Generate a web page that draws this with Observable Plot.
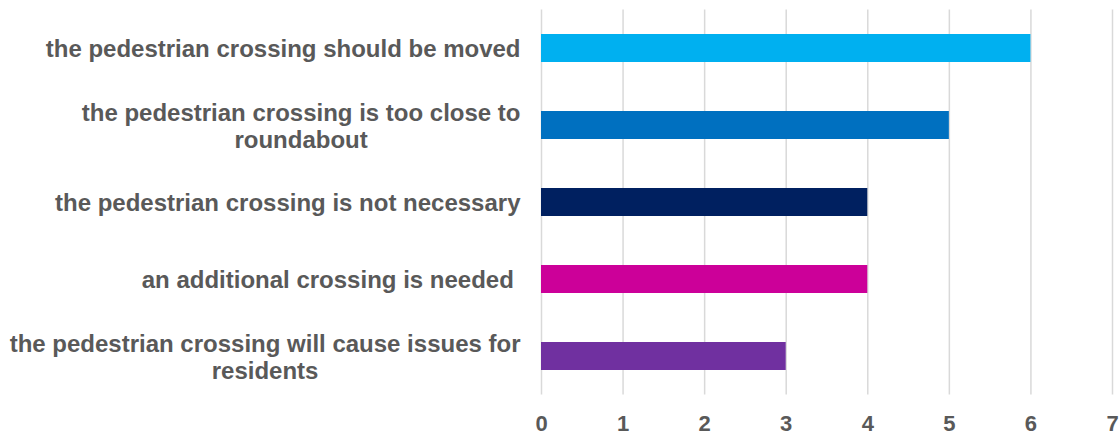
<!DOCTYPE html>
<html>
<head>
<meta charset="utf-8">
<script src="https://cdn.jsdelivr.net/npm/d3@7"></script>
<script src="https://cdn.jsdelivr.net/npm/@observablehq/plot@0.6"></script>
<style>
  html, body { margin: 0; padding: 0; background: #fff; }
  svg text { white-space: pre; }
</style>
</head>
<body>
<div id="chart"></div>
<script>
const categories = [
  "the pedestrian crossing should be moved",
  "the pedestrian crossing is too close to roundabout",
  "the pedestrian crossing is not necessary",
  "an additional crossing is needed ",
  "the pedestrian crossing will cause issues for residents"
];
const values = [6, 5, 4, 4, 3];
const colors = ["#00B0F0", "#0070C0", "#002060", "#CC0099", "#7030A0"];
const displayLabels = [
  "the pedestrian crossing should be moved",
  "the pedestrian crossing is too close to\nroundabout",
  "the pedestrian crossing is not necessary",
  "an additional crossing is needed ",
  "the pedestrian crossing will cause issues for\nresidents"
];
const xTicks = [0, 1, 2, 3, 4, 5, 6, 7];

const data = categories.map((c, i) => ({category: c, value: values[i], color: colors[i]}));
const labelOf = new Map(categories.map((c, i) => [c, displayLabels[i]]));

const chart = Plot.plot({
  width: 1119,
  height: 435,
  marginLeft: 541,
  marginRight: 7,
  marginTop: 9.5,
  marginBottom: 40.5,
  style: {fontFamily: "'Liberation Sans', Arial, sans-serif", color: "#595959", background: "#fff"},
  x: {domain: [0, 7], ticks: xTicks},
  y: {domain: categories, paddingInner: 0.64, paddingOuter: 0.32, align: 0.5},
  marks: [
    Plot.gridX(xTicks, {stroke: "#d9d9d9", strokeOpacity: 1, strokeWidth: 1.5}),
    Plot.barX(data, {x: "value", y: "category", fill: "color"}),
    Plot.axisX({ticks: xTicks, tickSize: 0, tickPadding: 20.4, fontSize: 22, fontWeight: "bold", fill: "#595959", label: null, tickFormat: d => String(d)}),
    Plot.axisY({tickSize: 0, tickPadding: 21, fontSize: 24, fontWeight: "bold", fill: "#595959", label: null, lineHeight: 1.125, tickFormat: d => labelOf.get(d)})
  ]
});
document.getElementById("chart").appendChild(chart);

// Center multi-line category labels within their block (right edge kept at the axis padding)
d3.select(chart).selectAll('g[aria-label="y-axis tick label"] text').each(function() {
  const tspans = this.querySelectorAll("tspan");
  if (tspans.length > 1) {
    const w = this.getBBox().width;
    this.setAttribute("text-anchor", "middle");
    const t = this.getAttribute("transform") || "";
    this.setAttribute("transform", t + ` translate(${-w / 2},0)`);
  }
});
</script>
</body>
</html>
